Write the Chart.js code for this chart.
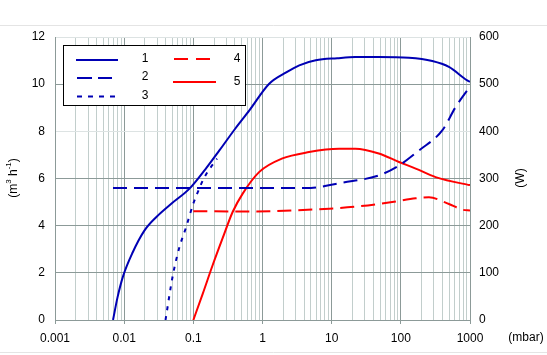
<!DOCTYPE html>
<html><head><meta charset="utf-8">
<script src="https://cdn.jsdelivr.net/npm/chart.js@4/dist/chart.umd.min.js"></script>
<style>html,body{margin:0;padding:0;background:#fff;}#wrap{width:547px;height:355px;position:relative;}</style>
</head><body><div id="wrap"><canvas id="c" width="547" height="355"></canvas></div>
<script>
// ---- data ----
const xTickLabels = ['0.001','0.01','0.1','1','10','100','1000'];
const seriesNames = ['1','2','3','4','5'];

// series 1: blue solid (m3/h)
const s1x = [0.0069,0.008,0.0096,0.0132,0.0197,0.029,0.048,0.088,0.15,0.238,0.4,0.646,1.25,2.2,3.4,5.9,12,22,48,131,285,496,913,1000];
const s1y = [0,0.95,1.84,2.85,3.8,4.36,4.93,5.57,6.4,7.19,8.1,8.89,10.02,10.5,10.8,11.01,11.1,11.15,11.15,11.12,10.98,10.73,10.16,10.1];
// series 2: blue dashed (m3/h)
const s2x = [0.0069,5,8,12.8,48,94,183,397,620,1000];
const s2y = [5.6,5.6,5.68,5.8,6.13,6.55,7.19,8.04,9.03,9.9];
// series 3: blue dotted (m3/h)
const s3x = [0.0396,0.0505,0.063,0.0787,0.098,0.116,0.145,0.22];
const s3y = [0,1.89,3.09,3.94,4.86,5.42,6.06,6.84];
// series 4: red dashed (W)
const s4x = [0.1,0.65,9.2,24.9,75,164,255,496,773,1000];
const s4y = [230.8,230,236,241,250,258,260,246,234,232];
// series 5: red solid (W)
const s5x = [0.1,0.137,0.19,0.266,0.37,0.517,0.9,1.9,4.7,12.8,22,48,94,164,318,913,1000];
const s5y = [0,56,116,174,229,268,314,342,356,363,363,353,335,321,303,287,286];

const BLUE = '#0000b4', RED = '#ff0000';
const GRID = '#8c9a98', GRID_MINOR = '#c2cecc', GRID_LIGHT = '#dde3e3';

function pts(xs, ys){ return xs.map((x,i)=>({x:x, y:ys[i]})); }
function isDecade(v){ const l = Math.log10(v); return Math.abs(l - Math.round(l)) < 1e-6; }

const decor = {
  id:'decor',
  beforeDraw(chart){
    const c = chart.ctx; c.save();
    c.fillStyle = '#fff'; c.fillRect(0,0,chart.width,chart.height);
    c.strokeStyle = '#e4e4e4'; c.lineWidth = 1;
    c.beginPath(); c.moveTo(0,25.5); c.lineTo(chart.width,25.5); c.moveTo(0,352.5); c.lineTo(chart.width,352.5); c.stroke();
    c.restore();
  },
  afterDraw(chart){
    const c = chart.ctx; c.save();
    c.fillStyle = '#000';
    // left axis title (m3 h-1), rotated
    c.translate(14,178); c.rotate(-Math.PI/2);
    const parts = [['(m',12,0],['3',8,-5],[' h',12,0],['-1',8,-5],[')',12,0]];
    let tw = 0;
    parts.forEach(p=>{ c.font = p[1]+'px "Liberation Sans", Arial'; tw += c.measureText(p[0]).width; });
    let xx = -tw/2; c.textBaseline = 'middle'; c.textAlign = 'left';
    parts.forEach(p=>{ c.font = p[1]+'px "Liberation Sans", Arial'; c.fillText(p[0], xx, p[2]); xx += c.measureText(p[0]).width; });
    c.restore();
    c.save(); c.fillStyle='#000'; c.font = '12px "Liberation Sans", Arial';
    c.translate(521,178); c.rotate(-Math.PI/2); c.textAlign='center'; c.textBaseline='middle';
    c.fillText('(W)',0,0); c.restore();
    c.save(); c.fillStyle='#000'; c.font = '12px "Liberation Sans", Arial';
    c.textAlign='center'; c.textBaseline='middle'; c.fillText('(mbar)',526,338); c.restore();
    // legend
    c.save();
    c.fillStyle='#fff'; c.fillRect(63.5,45.5,182,60);
    c.strokeStyle='#000'; c.lineWidth=1; c.strokeRect(63.5,45.5,182,60);
    const leg = [
      {col:BLUE, dash:[], x1:76, x2:118, y:60, lx:145, ly:59},
      {col:BLUE, dash:[15,6], x1:77, x2:112, y:78, lx:145, ly:77},
      {col:BLUE, dash:[5,6], x1:77, x2:117, y:96.5, lx:145, ly:95.5},
      {col:RED, dash:[14,8], x1:174, x2:210, y:59, lx:237, ly:58.5},
      {col:RED, dash:[], x1:173, x2:216, y:82, lx:237, ly:81.5}
    ];
    leg.forEach((l,i)=>{
      c.strokeStyle=l.col; c.lineWidth=2; c.setLineDash(l.dash);
      c.beginPath(); c.moveTo(l.x1,l.y); c.lineTo(l.x2,l.y); c.stroke();
      c.setLineDash([]);
      c.fillStyle='#000'; c.font='12px "Liberation Sans", Arial'; c.textAlign='center'; c.textBaseline='middle';
      c.fillText(seriesNames[i], l.lx, l.ly);
    });
    c.restore();
  }
};

const ds = (label, data, col, dash, axis) => ({
  label, data, borderColor:col, backgroundColor:col, borderWidth:2, borderDash:dash,
  pointRadius:0, fill:false, yAxisID:axis, cubicInterpolationMode:'monotone'
});

new Chart(document.getElementById('c'), {
  type:'line',
  data:{ datasets:[
    ds(seriesNames[0], pts(s1x,s1y), BLUE, [], 'y'),
    ds(seriesNames[1], pts(s2x,s2y), BLUE, [14,7], 'y'),
    ds(seriesNames[2], pts(s3x,s3y), BLUE, [4,6], 'y'),
    ds(seriesNames[3], pts(s4x,s4y), RED, [14,7], 'y2'),
    ds(seriesNames[4], pts(s5x,s5y), RED, [], 'y2')
  ]},
  options:{
    responsive:false, animation:false, devicePixelRatio:1,
    layout:{padding:{top:37,left:0,right:0,bottom:0}},
    plugins:{legend:{display:false}, tooltip:{enabled:false}},
    font:{family:'"Liberation Sans", Arial'},
    scales:{
      x:{
        type:'logarithmic', min:0.001, max:1000,
        afterBuildTicks(scale){
          const t = [];
          xTickLabels.forEach((lab,i)=>{
            const d = Number(lab);
            if (i < xTickLabels.length-1) { for (let k=1;k<=9;k++) t.push({value: +(k*d).toPrecision(6)}); }
            else t.push({value:d});
          });
          scale.ticks = t;
        },
        afterFit(s){ s.height = 35; },
        ticks:{ autoSkip:false, maxRotation:0, minRotation:0, padding:7, color:'#000',
          font:{family:'"Liberation Sans", Arial', size:12},
          callback(v){ return isDecade(v) ? xTickLabels[Math.round(Math.log10(v))+3] : ''; } },
        grid:{ lineWidth:1, tickLength:4,
          color(ctx){ return ctx.tick && isDecade(ctx.tick.value) ? GRID : GRID_MINOR; },
          tickColor(ctx){ return ctx.tick && isDecade(ctx.tick.value) ? GRID : 'rgba(0,0,0,0)'; } },
        border:{display:true, color:GRID}
      },
      y:{
        type:'linear', position:'left', min:0, max:12,
        afterFit(s){ s.width = 55; },
        ticks:{ stepSize:2, padding:10, color:'#000', font:{family:'"Liberation Sans", Arial', size:12} },
        grid:{ drawTicks:false, lineWidth:1,
          color(ctx){ const v = ctx.tick ? ctx.tick.value : 0; return (v===8 || v===12) ? GRID_LIGHT : GRID; } },
        border:{display:true, color:GRID}
      },
      y2:{
        type:'linear', position:'right', min:0, max:600,
        afterFit(s){ s.width = 77; },
        ticks:{ stepSize:100, padding:9, color:'#000', font:{family:'"Liberation Sans", Arial', size:12} },
        grid:{ drawOnChartArea:false, drawTicks:false },
        border:{display:true, color:GRID}
      }
    }
  },
  plugins:[decor]
});
</script></body></html>
